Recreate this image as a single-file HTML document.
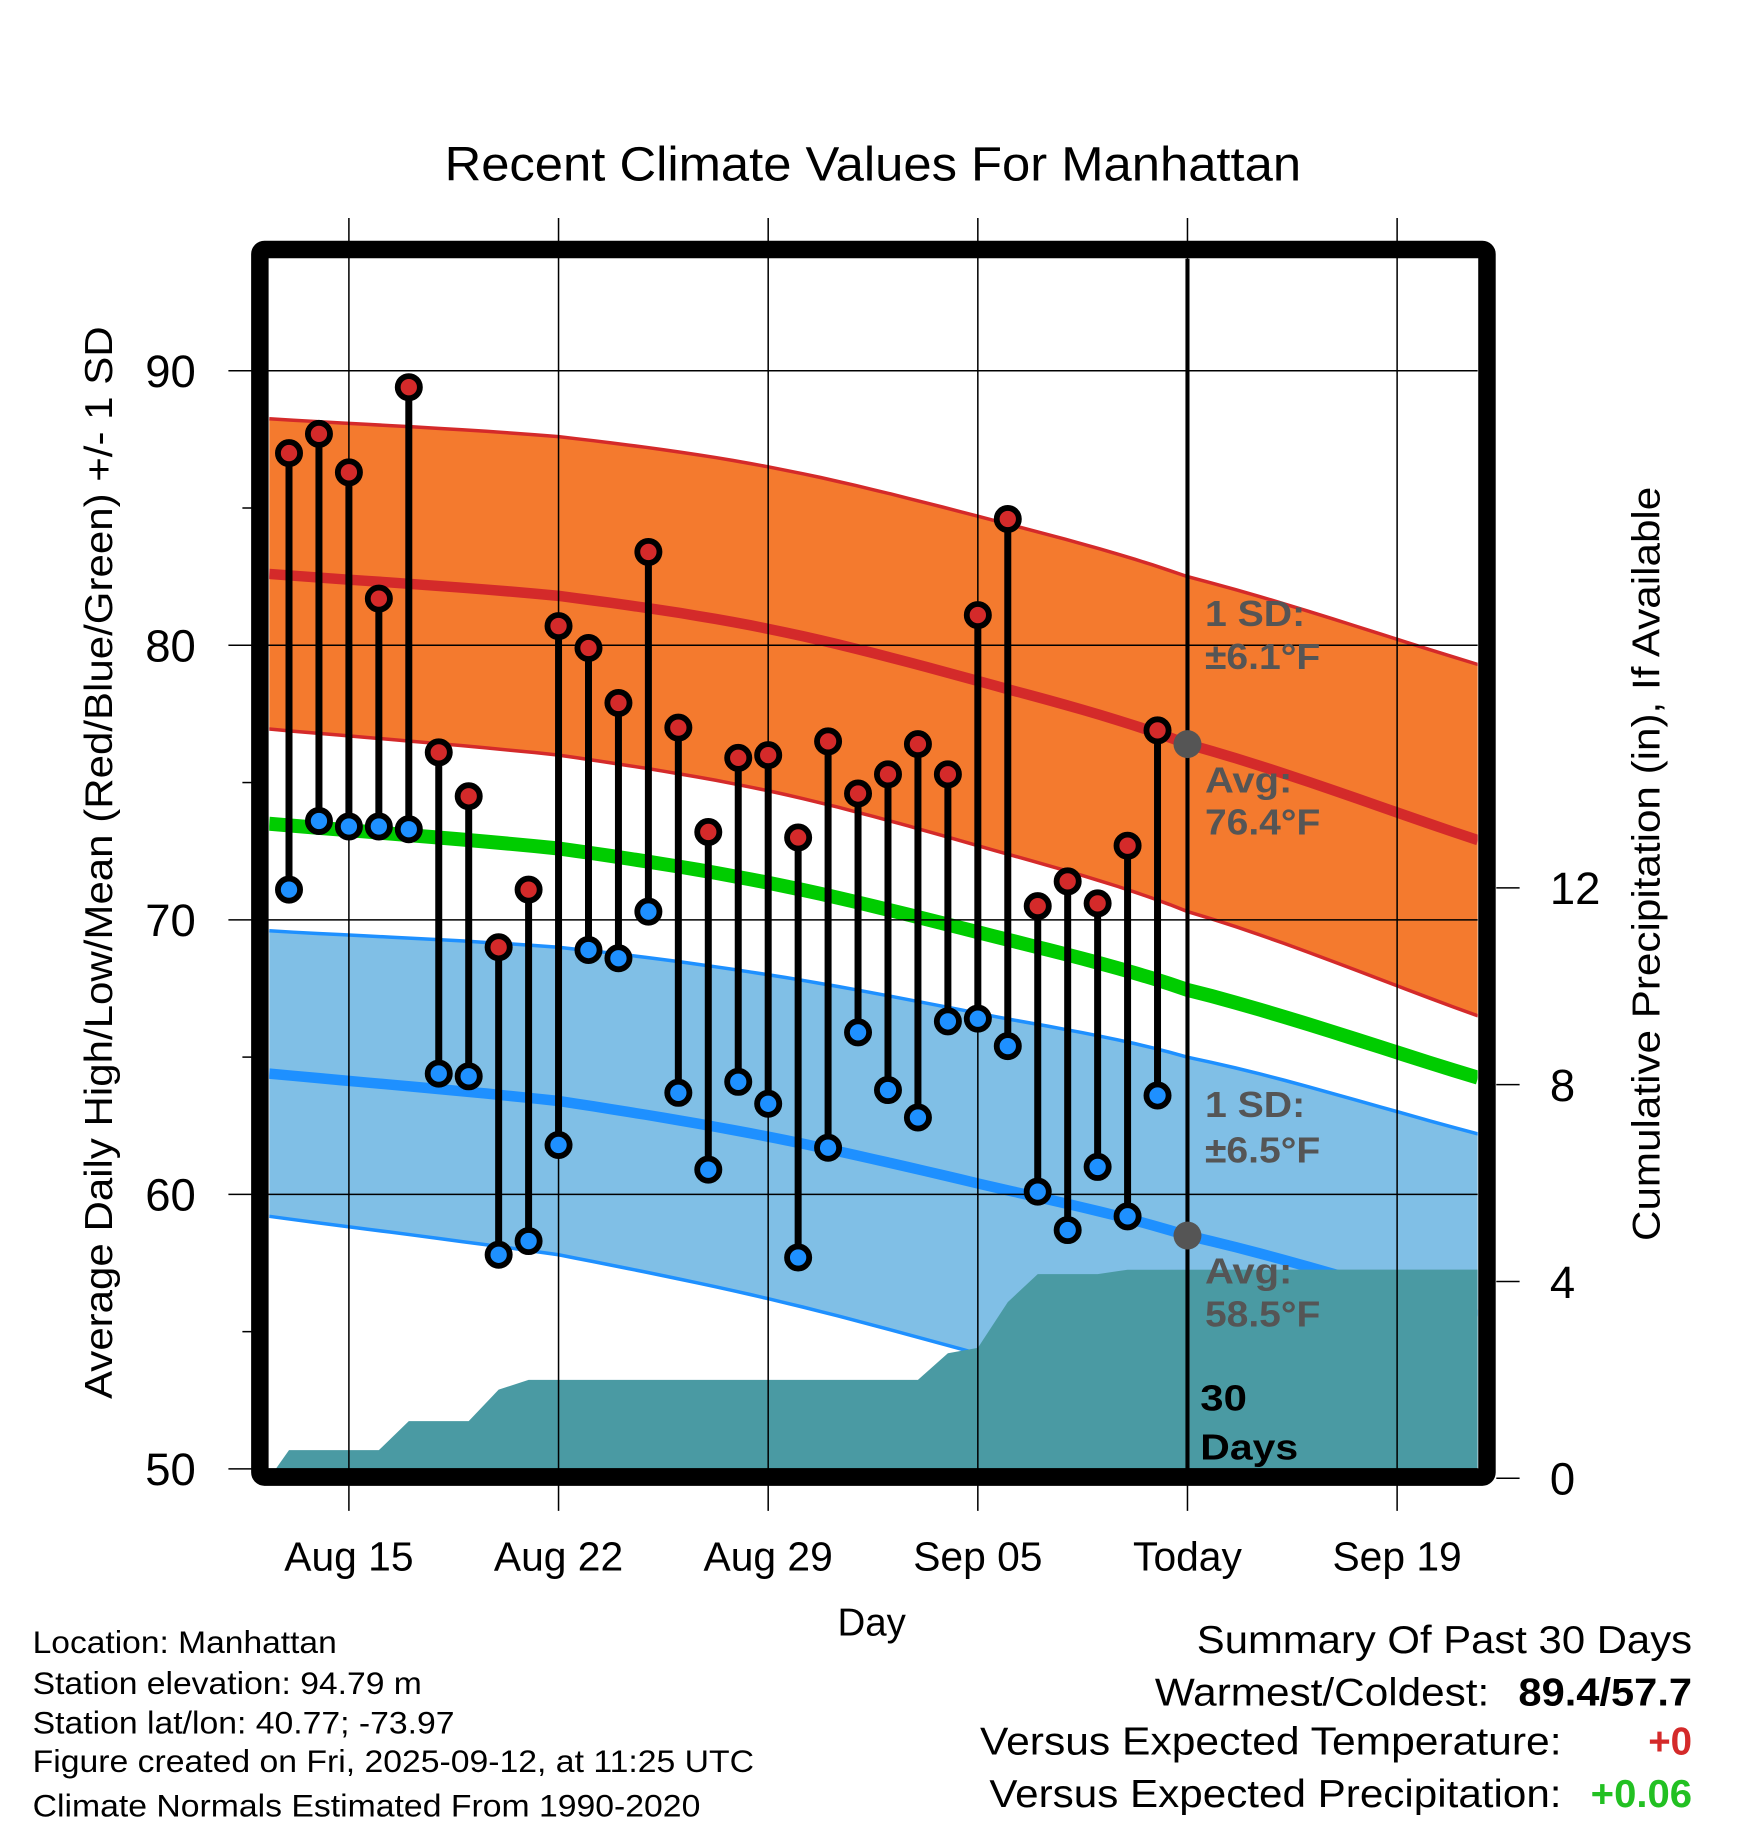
<!DOCTYPE html>
<html><head><meta charset="utf-8"><style>
html,body{margin:0;padding:0;background:#fff}
svg{display:block}
text{font-family:"Liberation Sans",sans-serif}
</style></head><body>
<svg id="chart" width="1748" height="1828" viewBox="0 0 1500 1568" preserveAspectRatio="none" xmlns="http://www.w3.org/2000/svg">
<text x="749" y="155" font-size="41" text-anchor="middle" textLength="735" lengthAdjust="spacingAndGlyphs">Recent Climate Values For Manhattan</text>
<g id="plot"></g>
<text transform="translate(96,740) rotate(-90)" font-size="33" text-anchor="middle" textLength="920" lengthAdjust="spacingAndGlyphs">Average Daily High/Low/Mean (Red/Blue/Green) +/- 1 SD</text>
<text transform="translate(1424,741) rotate(-90)" font-size="33" text-anchor="middle" textLength="647" lengthAdjust="spacingAndGlyphs">Cumulative Precipitation (in), If Available</text>
<text x="748" y="1403" font-size="33" text-anchor="middle">Day</text>
<g font-size="27">
<text x="28" y="1418" textLength="261" lengthAdjust="spacingAndGlyphs">Location: Manhattan</text>
<text x="28" y="1453" textLength="334" lengthAdjust="spacingAndGlyphs">Station elevation: 94.79 m</text>
<text x="28" y="1487" textLength="362" lengthAdjust="spacingAndGlyphs">Station lat/lon: 40.77; -73.97</text>
<text x="28" y="1520" textLength="619" lengthAdjust="spacingAndGlyphs">Figure created on Fri, 2025-09-12, at 11:25 UTC</text>
<text x="28" y="1558" textLength="573" lengthAdjust="spacingAndGlyphs">Climate Normals Estimated From 1990-2020</text>
</g>
<g font-size="33">
<text x="1452" y="1418" text-anchor="end" textLength="425" lengthAdjust="spacingAndGlyphs">Summary Of Past 30 Days</text>
<text x="1278" y="1463" text-anchor="end" textLength="287" lengthAdjust="spacingAndGlyphs">Warmest/Coldest:</text>
<text x="1452" y="1463" text-anchor="end" font-weight="bold" textLength="149" lengthAdjust="spacingAndGlyphs">89.4/57.7</text>
<text x="1340" y="1505" text-anchor="end" textLength="499" lengthAdjust="spacingAndGlyphs">Versus Expected Temperature:</text>
<text x="1452" y="1505" text-anchor="end" font-weight="bold" fill="#d42a2a">+0</text>
<text x="1340" y="1550" text-anchor="end" textLength="491" lengthAdjust="spacingAndGlyphs">Versus Expected Precipitation:</text>
<text x="1452" y="1550" text-anchor="end" font-weight="bold" fill="#22c022" textLength="87" lengthAdjust="spacingAndGlyphs">+0.06</text>
</g>
</svg>
<script>
const highs=[87.0,87.7,86.3,81.7,89.4,76.1,74.5,69.0,71.1,80.7,79.9,77.9,83.4,77.0,73.2,75.9,76.0,73.0,76.5,74.6,75.3,76.4,75.3,81.1,84.6,70.5,71.4,70.6,72.7,76.9];
const lows=[71.1,73.6,73.4,73.4,73.3,64.4,64.3,57.8,58.3,61.8,68.9,68.6,70.3,63.7,60.9,64.1,63.3,57.7,61.7,65.9,63.8,62.8,66.3,66.4,65.4,60.1,58.7,61.0,59.2,63.6];
const precip=[0.57,0.57,0.57,0.57,1.16,1.16,1.16,1.8,2.0,2.0,2.0,2.0,2.0,2.0,2.0,2.0,2.0,2.0,2.0,2.0,2.0,2.0,2.54,2.65,3.58,4.15,4.15,4.15,4.24,4.24];
const normDays=[-0.66,9,16,23,30,39.7];
const normHigh=[82.6,81.8,80.6,78.7,76.4,72.9];
const sdHigh=[5.65,5.8,5.9,6.0,6.1,6.4];
const normLow=[64.4,63.4,62.1,60.4,58.5,55.6];
const sdLow=[5.2,5.6,5.9,6.2,6.5,6.6];
const xTickDays=[2,9,16,23,30,37];
const xTickLabels=["Aug 15","Aug 22","Aug 29","Sep 05","Today","Sep 19"];
const yTicks=[50,60,70,80,90];
const y2Ticks=[0,4,8,12];
const todayDay=30;

const NS="http://www.w3.org/2000/svg";
const X0=231,X1=1268,Y0=222,Y1=1260;
const x=d=>248+d*25.7;
const y=v=>1260-(v-50)*23.55;
const yR=p=>1268-p*42.2;
const g=document.getElementById('plot');
function mk(tag,attrs,parent){const e=document.createElementNS(NS,tag);for(const k in attrs)e.setAttribute(k,attrs[k]);(parent||g).appendChild(e);return e;}
function smooth(vs){
 const out=[];const n=normDays.length;
 for(let i=0;i<n-1;i++){
  const p1=vs[i],p2=vs[i+1];
  const p0=i>0?vs[i-1]:2*p1-p2;
  const p3=i+2<n?vs[i+2]:2*p2-p1;
  const d1=normDays[i],d2=normDays[i+1];
  for(let k=0;k<12;k++){const t=k/12;
   const v=0.5*((2*p1)+(-p0+p2)*t+(2*p0-5*p1+4*p2-p3)*t*t+(-p0+3*p1-3*p2+p3)*t*t*t);
   out.push([x(d1+(d2-d1)*t),y(v)]);}
 }
 out.push([x(normDays[n-1]),y(vs[n-1])]);
 return out;
}
const str=a=>a.map(p=>p[0].toFixed(1)+','+p[1].toFixed(1)).join(' ');
const up=(av,sd)=>av.map((v,i)=>v+sd[i]);
const lo=(av,sd)=>av.map((v,i)=>v-sd[i]);

const clip=mk('clipPath',{id:'pc'});mk('rect',{x:X0,y:Y0,width:X1-X0,height:Y1-Y0},clip);
const inner=mk('g',{'clip-path':'url(#pc)'});

const hu=smooth(up(normHigh,sdHigh)),hl=smooth(lo(normHigh,sdHigh));
const lu=smooth(up(normLow,sdLow)),ll=smooth(lo(normLow,sdLow));
let e=mk('polygon',{points:str(hu.concat(hl.slice().reverse())),fill:'#f47a2e'},inner);


e=mk('polygon',{points:str(lu.concat(ll.slice().reverse())),fill:'#80bfe6'},inner);


[[hu,'#d42a2a'],[hl,'#d42a2a'],[lu,'#1e90ff'],[ll,'#1e90ff']].forEach(([a,c])=>{
 const l=mk('polyline',{points:str(a),fill:'none',stroke:c,'stroke-width':3},inner);
 
 
});
yTicks.forEach(v=>{const l=mk('line',{x1:196,x2:X1,y1:y(v),y2:y(v),stroke:'#000','stroke-width':1.3});
 
 });
xTickDays.forEach(d=>{const l=mk('line',{x1:x(d),x2:x(d),y1:187,y2:1296,stroke:'#000','stroke-width':1.3});
 
 });
[55,65,75,85].forEach(v=>{mk('line',{x1:208,x2:218,y1:y(v),y2:y(v),stroke:'#000','stroke-width':1.3});});
const meanArr=normHigh.map((v,i)=>(v+normLow[i])/2);
[[normHigh,'#d42a2a',9,'high-normal-line'],[normLow,'#1e90ff',9,'low-normal-line'],[meanArr,'#00cc00',12,'mean-normal-line']].forEach(([a,c,w,n])=>{
 const l=mk('polyline',{points:str(smooth(a)),fill:'none',stroke:c,'stroke-width':w},inner);
 
 
});
let pp=[X0+','+yR(0)];
precip.forEach((p,i)=>pp.push(x(i).toFixed(1)+','+yR(p).toFixed(1)));
pp.push(X1+','+yR(precip[precip.length-1]));pp.push(X1+','+Y1);pp.push(X0+','+Y1);
e=mk('polygon',{points:pp.join(' '),fill:'#4a9aa3'},inner);


e=mk('line',{x1:x(todayDay),x2:x(todayDay),y1:Y0,y2:Y1,stroke:'#000','stroke-width':3.5});


const ti=normDays.indexOf(todayDay);
[normHigh[ti],normLow[ti]].forEach(v=>{const c=mk('circle',{cx:x(todayDay),cy:y(v),r:12,fill:'#555'});
 
 });
highs.forEach((h,i)=>{
 const s=mk('line',{x1:x(i),x2:x(i),y1:y(h),y2:y(lows[i]),stroke:'#000','stroke-width':6});
 
 
});
highs.forEach((h,i)=>{
 const a=mk('circle',{cx:x(i),cy:y(h),r:9.5,fill:'#d42a2a',stroke:'#000','stroke-width':5});
 
 
 const b=mk('circle',{cx:x(i),cy:y(lows[i]),r:9.5,fill:'#1e90ff',stroke:'#000','stroke-width':5});
 
 
});
const ann=[["1 SD:",537,'#555',86],["±6.1°F",574,'#555',99],["Avg:",680,'#555',75],["76.4°F",716,'#555',99],["1 SD:",958,'#555',86],["±6.5°F",997,'#555',99],["Avg:",1101,'#555',75],["58.5°F",1138,'#555',99],["30",1210,'#000',40],["Days",1252,'#000',84]];
ann.forEach(([t,yy,c,w])=>{const tx=mk('text',{x:t==="30"||t==="Days"?1030:1034,y:yy,'font-size':31,'font-weight':'bold',fill:c,textLength:w,lengthAdjust:'spacingAndGlyphs'});tx.textContent=t;
 
 });
e=mk('rect',{x:223,y:214,width:1053,height:1053,fill:'none',stroke:'#000','stroke-width':15,rx:4});


yTicks.forEach(v=>{const t=mk('text',{x:168,y:y(v)+14,'font-size':39,'text-anchor':'end'});t.textContent=v;
 
 });
y2Ticks.forEach(p=>{mk('line',{x1:1284,x2:1304,y1:yR(p),y2:yR(p),stroke:'#000','stroke-width':1.3});
 const t=mk('text',{x:1330,y:yR(p)+14,'font-size':39});t.textContent=p;
 
 });
xTickDays.forEach((d,i)=>{const t=mk('text',{x:x(d),y:1347,'font-size':35,'text-anchor':'middle'});t.textContent=xTickLabels[i];
 
 });
</script>
</body></html>
